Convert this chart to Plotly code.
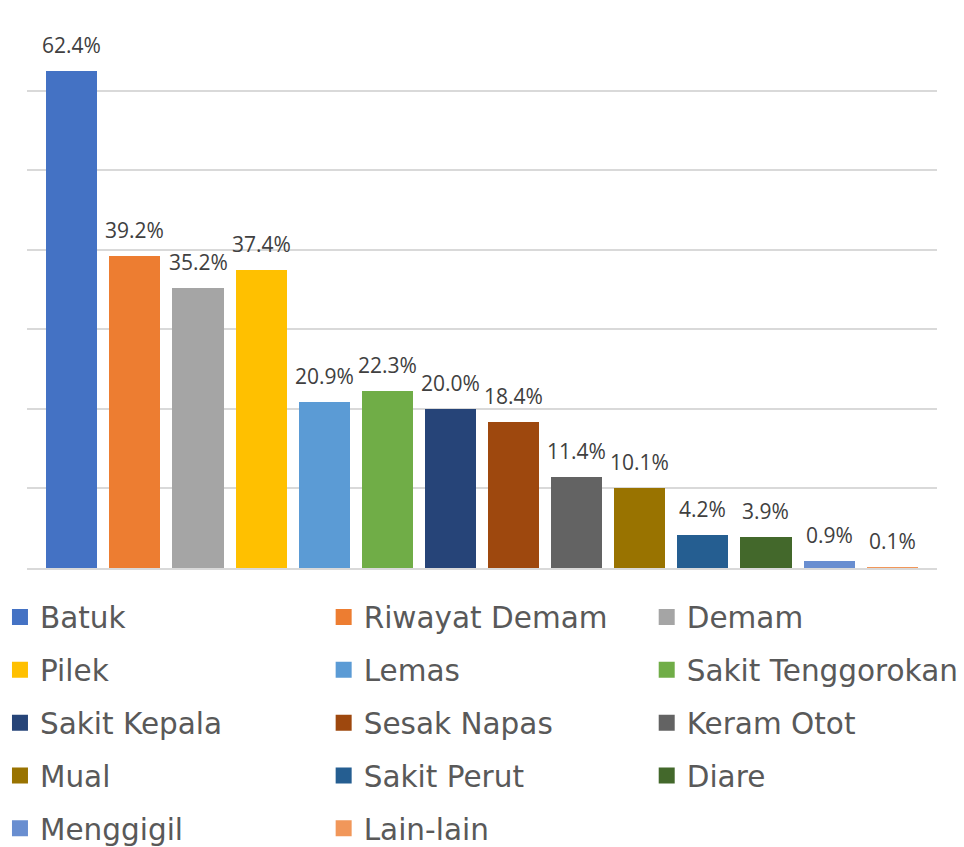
import plotly.graph_objects as go

categories = ["Batuk", "Riwayat Demam", "Demam", "Pilek", "Lemas", "Sakit Tenggorokan",
              "Sakit Kepala", "Sesak Napas", "Keram Otot", "Mual", "Sakit Perut", "Diare",
              "Menggigil", "Lain-lain"]
values = [62.4, 39.2, 35.2, 37.4, 20.9, 22.3, 20.0, 18.4, 11.4, 10.1, 4.2, 3.9, 0.9, 0.1]
colors = ["#4472C4", "#ED7D31", "#A5A5A5", "#FFC000", "#5B9BD5", "#70AD47",
          "#264478", "#9E480E", "#636363", "#997300", "#255E91", "#43682B",
          "#698ED0", "#F1975A"]

fig = go.Figure()
for c, v, col in zip(categories, values, colors):
    fig.add_trace(go.Bar(x=[c], y=[v], marker=dict(color=col, line=dict(width=0)),
                         width=0.81, showlegend=False, hoverinfo="x+y"))

# legend entries (three columns, row-major order as in the reference)
for i, (c, col) in enumerate(zip(categories, colors)):
    leg = ["legend", "legend2", "legend3"][i % 3]
    fig.add_trace(go.Scatter(x=[None], y=[None], mode="markers", name=c,
                             marker=dict(symbol="square", size=16, color=col, line=dict(width=0)),
                             legend=leg, legendgroup=c, showlegend=True))

for c, v in zip(categories, values):
    fig.add_annotation(x=c, y=v, text=f"{v:.1f}%", showarrow=False, yanchor="bottom",
                       yshift=10, font=dict(family="Open Sans", size=21, color="#404040"))

legfont = dict(family="DejaVu Sans", size=29.5, color="#595959")
common = dict(orientation="v", yanchor="top", y=-0.0418, tracegroupgap=11.5,
              font=legfont, bgcolor="rgba(0,0,0,0)", borderwidth=0, itemclick=False)
fig.update_layout(
    width=964, height=847,
    margin=dict(l=27, r=27, t=11, b=279, autoexpand=False),
    plot_bgcolor="white", paper_bgcolor="white",
    barmode="overlay", bargap=0,
    showlegend=True,
    legend=dict(x=-0.0297, xanchor="left", **common),
    legend2=dict(x=0.326, xanchor="left", **common),
    legend3=dict(x=0.681, xanchor="left", **common),
    xaxis=dict(type="category", categoryorder="array", categoryarray=categories,
               range=[-0.71, 13.71], showticklabels=False, showgrid=False,
               showline=True, linecolor="#D9D9D9", linewidth=2, ticks="", zeroline=False),
    yaxis=dict(range=[0, 70], dtick=10, showticklabels=False, showgrid=True,
               gridcolor="#D9D9D9", gridwidth=1.5, zeroline=False, ticks="", showline=False),
)

fig.write_html("out.html", config={"displayModeBar": False},
               post_script="document.body.style.margin='0';")
